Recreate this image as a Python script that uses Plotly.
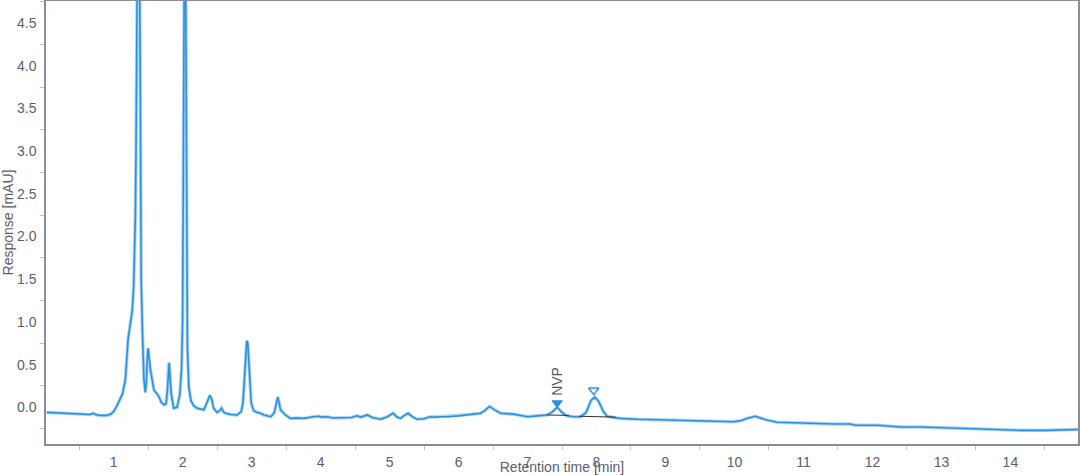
import plotly.graph_objects as go

# Chromatogram trace (retention time in min, response in mAU)
time_min = [0.03, 0.15, 0.30, 0.45, 0.60, 0.66, 0.70, 0.74, 0.80, 0.90, 0.96, 1.00, 1.05, 1.09, 1.13, 1.17,
            1.19, 1.21, 1.25, 1.27, 1.29, 1.30, 1.315, 1.325, 1.34, 1.355, 1.37, 1.385, 1.40, 1.42, 1.44, 1.46,
            1.475, 1.49, 1.50, 1.51, 1.536, 1.585, 1.63, 1.66, 1.69, 1.73, 1.76, 1.78, 1.795, 1.805, 1.815, 1.835,
            1.87, 1.92, 1.96, 1.985, 2.00, 2.015, 2.03, 2.045, 2.06, 2.07, 2.09, 2.12, 2.16, 2.21, 2.31, 2.35,
            2.395, 2.42, 2.45, 2.50, 2.54, 2.565, 2.59, 2.62, 2.70, 2.79, 2.85, 2.875, 2.90, 2.93, 2.945, 2.965,
            2.995, 3.03, 3.08, 3.13, 3.18, 3.28, 3.33, 3.36, 3.38, 3.40, 3.42, 3.49, 3.565, 3.65, 3.75, 3.90,
            3.97, 4.02, 4.10, 4.18, 4.30, 4.45, 4.53, 4.58, 4.68, 4.75, 4.87, 4.97, 5.05, 5.11, 5.16, 5.22,
            5.27, 5.33, 5.40, 5.50, 5.59, 5.66, 5.75, 5.84, 6.00, 6.15, 6.32, 6.38, 6.45, 6.52, 6.61, 6.80,
            6.92, 7.00, 7.14, 7.28, 7.35, 7.43, 7.50, 7.57, 7.67, 7.77, 7.85, 7.92, 7.975, 8.03, 8.10, 8.155,
            8.25, 8.35, 8.60, 9.02, 9.20, 9.51, 9.80, 9.99, 10.10, 10.18, 10.30, 10.40, 10.47, 10.62, 10.80, 10.96,
            11.20, 11.45, 11.68, 11.75, 12.07, 12.41, 12.70, 13.08, 13.40, 13.86, 14.14, 14.54, 14.75, 14.98]
response_mau = [-0.060, -0.065, -0.075, -0.080, -0.085, -0.085, -0.070, -0.085, -0.095, -0.095, -0.080, -0.050,
                0.020, 0.090, 0.160, 0.320, 0.600, 0.800, 1.020, 1.130, 1.400, 1.640, 2.220, 3.000, 4.600, 6.500,
                6.000, 4.000, 1.490, 0.820, 0.320, 0.175, 0.300, 0.600, 0.690, 0.620, 0.430, 0.200, 0.160, 0.120,
                0.060, 0.030, 0.040, 0.200, 0.500, 0.520, 0.400, 0.160, -0.010, 0.000, 0.150, 0.450, 1.000, 3.500,
                6.000, 5.000, 1.800, 0.700, 0.240, 0.080, 0.020, -0.010, -0.030, 0.050, 0.140, 0.100, -0.010, -0.060,
                -0.040, -0.010, -0.050, -0.070, -0.085, -0.090, -0.050, 0.050, 0.430, 0.780, 0.750, 0.430, 0.050,
                -0.040, -0.060, -0.070, -0.090, -0.110, -0.060, 0.050, 0.120, 0.050, -0.030, -0.090, -0.130, -0.125,
                -0.130, -0.110, -0.105, -0.115, -0.110, -0.125, -0.125, -0.120, -0.100, -0.115, -0.090, -0.120,
                -0.140, -0.110, -0.070, -0.115, -0.130, -0.090, -0.070, -0.110, -0.140, -0.135, -0.110, -0.115,
                -0.110, -0.110, -0.100, -0.085, -0.070, -0.040, 0.010, -0.030, -0.070, -0.080, -0.100, -0.110,
                -0.100, -0.090, -0.060, 0.000, -0.060, -0.100, -0.110, -0.110, -0.060, 0.080, 0.120, 0.070, -0.050,
                -0.105, -0.120, -0.130, -0.140, -0.150, -0.155, -0.160, -0.170, -0.170, -0.155, -0.130, -0.105,
                -0.130, -0.150, -0.175, -0.180, -0.185, -0.195, -0.195, -0.195, -0.210, -0.210, -0.230, -0.230,
                -0.240, -0.250, -0.260, -0.270, -0.270, -0.265, -0.260]

# Integration baselines of the two marked peaks
baseline1_t = [7.28, 7.60]
baseline1_y = [-0.090, -0.095]
baseline2_t = [7.75, 8.28]
baseline2_y = [-0.105, -0.115]

# Peak markers
nvp_t, nvp_y = [7.43], [0.05]
peak2_t, peak2_y = [7.96], [0.20]
nvp_label = "NVP"
nvp_label_y = 0.30

x_range = [0.02, 14.98]
y_range = [-0.43, 4.76]
y_ticks = [0.0, 0.5, 1.0, 1.5, 2.0, 2.5, 3.0, 3.5, 4.0, 4.5]
x_ticks = list(range(1, 15))

line_col = "#2a92dc"
axis_col = "#8a8d9c"
text_col = "#5a5e6a"

fig = go.Figure()
# soft halo
fig.add_trace(go.Scatter(x=time_min, y=response_mau, mode="lines",
                         line=dict(color="rgba(80,165,230,0.45)", width=3.5), hoverinfo="skip",
                         showlegend=False))
fig.add_trace(go.Scatter(x=time_min, y=response_mau, mode="lines",
                         line=dict(color=line_col, width=1.6), showlegend=False))
for bt, by in ((baseline1_t, baseline1_y), (baseline2_t, baseline2_y)):
    fig.add_trace(go.Scatter(x=bt, y=by, mode="lines", line=dict(color="#333333", width=1),
                             showlegend=False))
fig.add_trace(go.Scatter(x=nvp_t, y=nvp_y, mode="markers",
                         marker=dict(symbol="triangle-down", size=9, color=line_col,
                                     line=dict(color=line_col, width=1)), showlegend=False))
fig.add_trace(go.Scatter(x=peak2_t, y=peak2_y, mode="markers",
                         marker=dict(symbol="triangle-down-open", size=9, color=line_col,
                                     line=dict(width=1.3)), showlegend=False))

fig.add_annotation(x=nvp_t[0], y=nvp_label_y, text=nvp_label, textangle=-90, showarrow=False,
                   font=dict(family="Liberation Sans, Arial, sans-serif", size=14, color="#555555"))

fig.update_layout(
    width=1080, height=475,
    margin=dict(l=46, r=2, t=1, b=31),
    plot_bgcolor="white", paper_bgcolor="white",
    font=dict(family="Liberation Sans, Arial, sans-serif", size=14, color=text_col),
    showlegend=False,
)
fig.update_xaxes(range=x_range, tickvals=x_ticks, ticktext=[str(v) for v in x_ticks],
                 showgrid=False, zeroline=False, showline=True, mirror=True,
                 linecolor=axis_col, linewidth=1.5, ticks="", ticklabelstandoff=4,
                 minor=dict(ticks="outside", tick0=0.5, dtick=1, ticklen=4, tickcolor="#c0c2cc",
                            showgrid=False),
                 title=dict(text="Retention time [min]", standoff=0, font=dict(size=14, color=text_col)),
                 automargin=False)
fig.update_yaxes(range=y_range, tickvals=y_ticks, ticktext=[f"{v:.1f}" for v in y_ticks],
                 showgrid=False, zeroline=False, showline=True, mirror=True,
                 linecolor=axis_col, linewidth=1.5, ticks="", ticklabelstandoff=5,
                 minor=dict(ticks="outside", tick0=0.25, dtick=0.5, ticklen=4, tickcolor="#c0c2cc",
                            showgrid=False),
                 title=dict(text="Response [mAU]", standoff=0, font=dict(size=14, color=text_col)),
                 automargin=False)

fig.write_html("out.html", config={"displayModeBar": False},
               post_script="document.body.style.margin='0';document.body.style.overflow='hidden';")
